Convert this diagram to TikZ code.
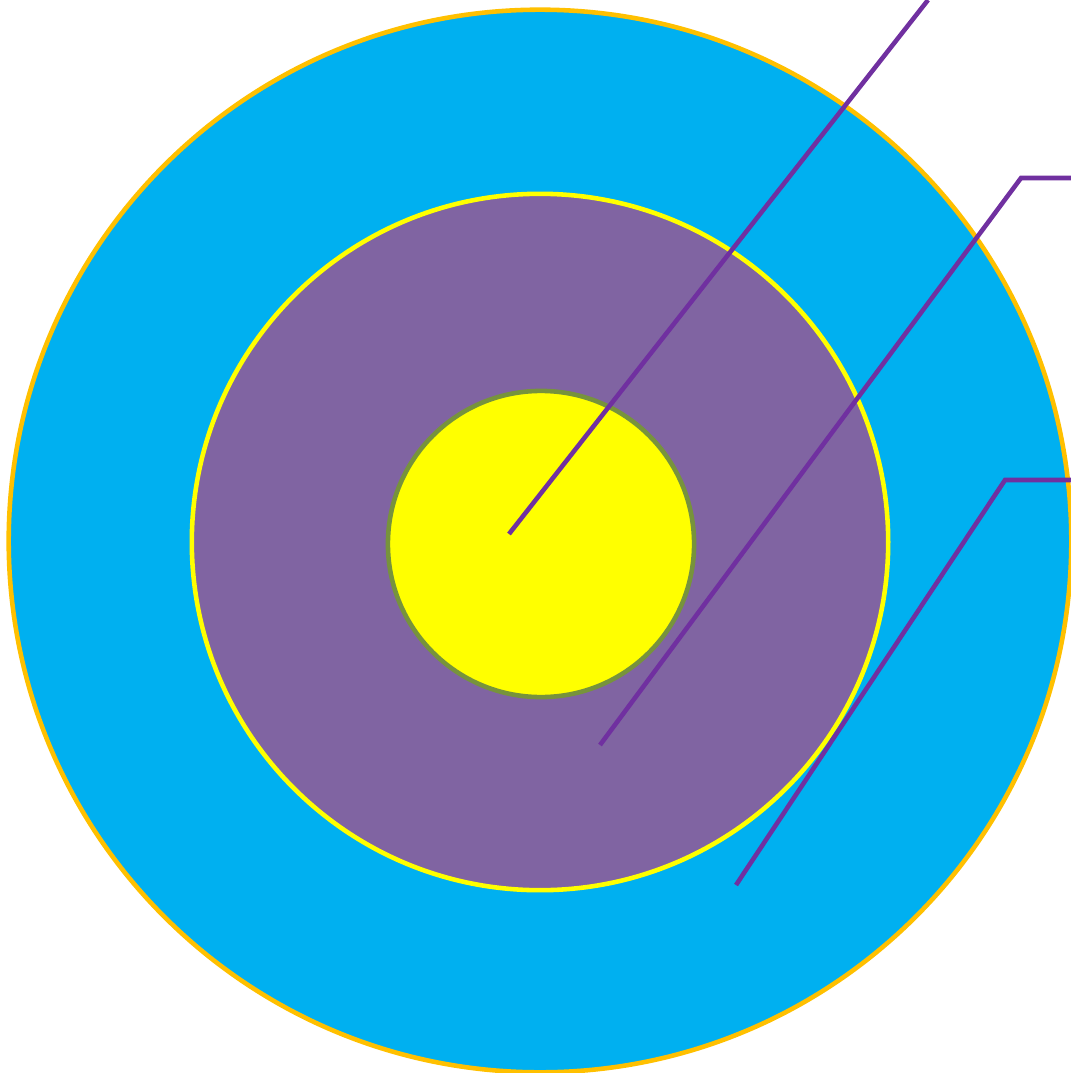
\documentclass[tikz,border=0pt]{standalone}
\usepackage{xcolor}
\usepackage{tikz}
\usetikzlibrary{calc}

\definecolor{ringblue}{HTML}{00B0F0}
\definecolor{ringgold}{HTML}{FFC000}
\definecolor{ringpurple}{HTML}{8064A2}
\definecolor{ringyellow}{HTML}{FFFF00}
\definecolor{ringgreen}{HTML}{77933C}
\definecolor{calloutpurple}{HTML}{7030A0}

\tikzset{
  ring/.style={circle, inner sep=0pt, line width=1.3pt},
  callout/.style={draw=calloutpurple, line width=1.3pt}
}

\begin{document}
\begin{tikzpicture}[x=0.01cm, y=-0.01cm]
  \useasboundingbox (0,0) rectangle (1071,1073);
  % the three rings
  \node[ring, fill=ringblue, draw=ringgold, minimum size=10.62cm] (outer) at (540,541) {};
  \node[ring, fill=ringpurple, draw=ringyellow, minimum size=6.96cm] (middle) at (540,542) {};
  \node[ring, fill=ringyellow, draw=ringgreen, minimum size=3.06cm] (inner) at (541,544) {};
  % callout ends
  \coordinate (c1) at (509,534);
  \coordinate (e1) at (928,0);
  \coordinate (c2) at (600,745);
  \coordinate (b2) at (1021,178);
  \coordinate (e2) at (1071,178);
  \coordinate (c3) at (736,885);
  \coordinate (b3) at (1005,480);
  \coordinate (e3) at (1071,480);
  % callout lines
  \draw[callout] (c1) -- (e1);
  \draw[callout] (c2) -- (b2) -- (e2);
  \draw[callout] (c3) -- (b3) -- (e3);
\end{tikzpicture}
\end{document}
